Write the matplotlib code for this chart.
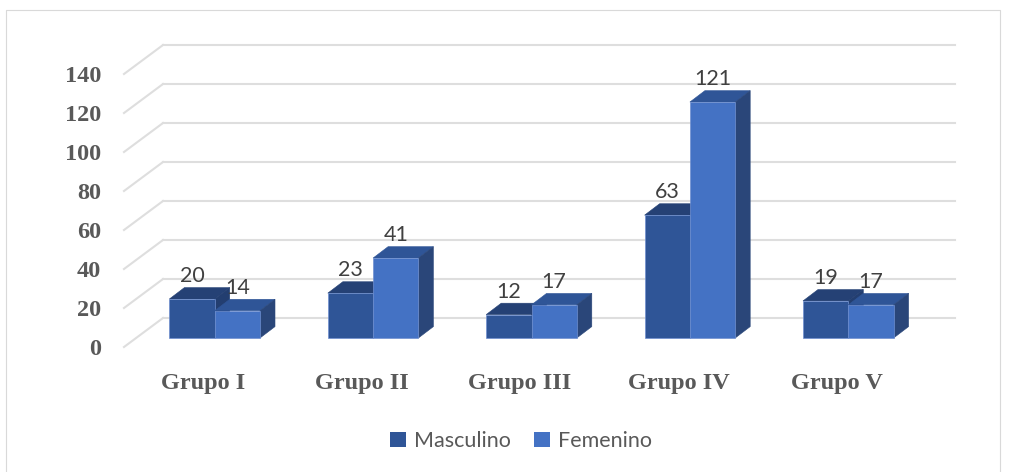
import matplotlib
matplotlib.use('Agg')
import matplotlib.pyplot as plt
from matplotlib.patches import Polygon, Rectangle
from matplotlib.lines import Line2D

categories = ['Grupo I', 'Grupo II', 'Grupo III', 'Grupo IV', 'Grupo V']
masculino = [20, 23, 12, 63, 19]
femenino = [14, 41, 17, 121, 17]
y_ticks = [0, 20, 40, 60, 80, 100, 120, 140]

W, H = 1013, 472
fig = plt.figure(figsize=(W / 100, H / 100), dpi=100)
# floor front edge of the fake 3d box
ax = fig.add_axes([124 / W, (H - 347) / H, (916 - 124) / W, 273 / H])
ax.set_xlim(-0.5, 4.5)
ax.set_ylim(0, 140)
for s in ax.spines.values():
    s.set_visible(False)

# one pixel in data units
px_x = 5 / (916 - 124)
px_y = 140 / 273

grid_col = '#dedede'
wall_dx, wall_dy = 39 * px_x, 29 * px_y
front_dx, front_dy = 11.5 * px_x, 9 * px_y  # bar front plane
depth_dx, depth_dy = 15 * px_x, 11.4 * px_y  # bar depth
width = 45.3 * px_x

for v in y_ticks:
    ax.plot([-0.5, -0.5 + wall_dx], [v, v + wall_dy], color=grid_col, lw=1.5, clip_on=False, zorder=1)
    ax.plot([-0.5 + wall_dx, 4.5 + wall_dx], [v + wall_dy, v + wall_dy], color=grid_col, lw=1.5,
            clip_on=False, zorder=1)


def draw_bar(x0, val, front, top, side, z):
    y0 = front_dy
    y1 = val + front_dy
    x1 = x0 + width
    ax.add_patch(Polygon([(x0, y1), (x1, y1), (x1 + depth_dx, y1 + depth_dy), (x0 + depth_dx, y1 + depth_dy)],
                         fc=top, ec=top, lw=0.4, clip_on=False, zorder=z))
    ax.add_patch(Polygon([(x1, y0), (x1 + depth_dx, y0 + depth_dy), (x1 + depth_dx, y1 + depth_dy), (x1, y1)],
                         fc=side, ec=side, lw=0.4, clip_on=False, zorder=z))
    ax.add_patch(Rectangle((x0, y0), width, val, fc=front, ec='#6f8fd0', lw=0.5, clip_on=False, zorder=z + 1))


for i in range(len(categories)):
    xc = i + front_dx
    draw_bar(xc - width, masculino[i], '#2f5597', '#254175', '#233e70', 3)
    draw_bar(xc, femenino[i], '#4472c4', '#2f5597', '#2a4679', 5)
    for x_lab, val in [(xc - width / 2, masculino[i]), (xc + width / 2, femenino[i])]:
        ax.text(x_lab, val + front_dy + depth_dy + 11.5 * px_y, str(val), ha='center', va='center',
                fontsize=15.5, color='#404040', family='Lato', zorder=8)

ax.set_xticks(range(len(categories)))
ax.set_xticklabels(categories, family='Liberation Serif', fontweight='bold', fontsize=17.5, color='#595959')
ax.set_yticks(y_ticks)
ax.set_yticklabels([str(v) for v in y_ticks], family='Liberation Serif', fontweight='bold',
                   fontsize=17.5, color='#595959')
ax.tick_params(axis='both', length=0)
ax.tick_params(axis='x', pad=19)
ax.tick_params(axis='y', pad=16.5)

# outer chart frame
fig.add_artist(Line2D([6 / W, 6 / W, 1000 / W, 1000 / W], [0, (H - 10) / H, (H - 10) / H, 0],
                      color='#d9d9d9', lw=0.8))

handles = [Rectangle((0, 0), 1, 1, fc='#2f5597'), Rectangle((0, 0), 1, 1, fc='#4472c4')]
fig.legend(handles, ['Masculino', 'Femenino'], loc='center', bbox_to_anchor=(521 / W, (H - 441) / H), ncol=2,
           frameon=False, handlelength=0.75, handleheight=0.75, handletextpad=0.35, columnspacing=1.1,
           prop={'family': 'Lato', 'size': 15.5}, labelcolor='#595959')

fig.savefig('out.png', dpi=100)
